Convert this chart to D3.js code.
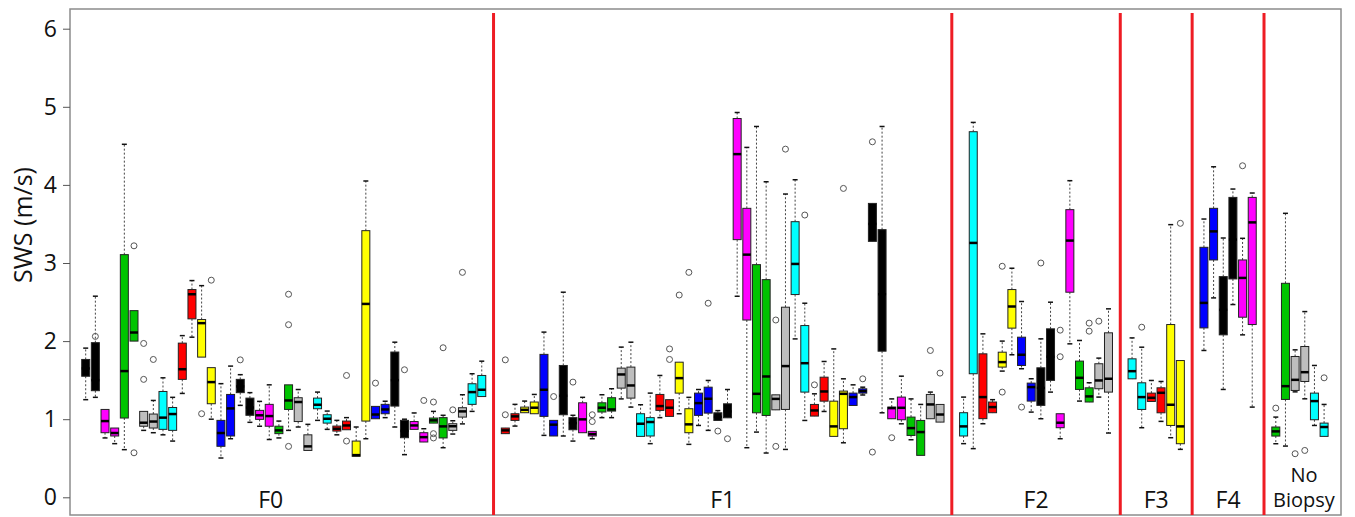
<!DOCTYPE html>
<html>
<head>
<meta charset="utf-8">
<script src="https://cdn.jsdelivr.net/npm/d3@7/dist/d3.min.js"></script>
<style>
  body { margin: 0; background: #fff; }
  svg text { font-family: "Open Sans", "DejaVu Sans", sans-serif; fill: #111; }
</style>
</head>
<body>
<div id="chart"></div>
<script>
//Grupos (etiquetas del eje X)
const GROUPS = ['F0', 'F1', 'F2', 'F3', 'F4', 'No Biopsy'];

//Cada caja: [bigote inf, Q1, mediana, Q3, bigote sup, [atípicos]]
const boxesF0 = [
  [1.25, 1.55, 1.65, 1.765, 1.91, []],
  [1.28, 1.365, 1.5, 1.98, 2.575, [2.06]],
  [0.76, 0.827, 0.976, 1.125, 1.13, []],
  [0.687, 0.785, 0.823, 0.887, 0.887, []],
  [0.61, 1.015, 1.616, 3.107, 4.52, []],
  [2.0, 2.0, 2.11, 2.39, 2.39, [3.22, 0.57]],
  [0.857, 0.91, 0.955, 1.1, 1.1, [1.97, 1.51]],
  [0.827, 0.887, 0.97, 1.066, 1.24, [1.765]],
  [0.80, 0.87, 1.02, 1.355, 1.53, []],
  [0.72, 0.857, 1.066, 1.15, 1.28, []],
  [1.33, 1.51, 1.64, 1.974, 2.07, []],
  [2.05, 2.285, 2.6, 2.66, 2.775, []],
  [1.795, 1.795, 2.23, 2.276, 2.71, [1.07]],
  [1.0, 1.198, 1.475, 1.66, 1.66, [2.78]],
  [0.503, 0.653, 0.823, 0.985, 1.455, []],
  [0.75, 0.785, 1.138, 1.317, 1.68, []],
  [1.177, 1.34, 1.42, 1.51, 1.57, [1.76]],
  [0.96, 1.05, 1.15, 1.27, 1.34, []],
  [0.91, 0.998, 1.05, 1.113, 1.228, []],
  [0.74, 0.91, 1.04, 1.19, 1.44, []],
  [0.76, 0.815, 0.857, 0.91, 0.976, []],
  [0.857, 1.125, 1.24, 1.44, 1.44, [2.6, 2.21, 0.652]],
  [0.9, 0.97, 1.22, 1.275, 1.38, []],
  [0.6, 0.6, 0.652, 0.8, 0.934, []],
  [0.985, 1.134, 1.185, 1.27, 1.347, []],
  [0.87, 0.95, 1.006, 1.057, 1.104, []],
  [0.8, 0.848, 0.878, 0.912, 0.985, []],
  [0.865, 0.865, 0.92, 0.976, 1.02, [1.56, 0.72]],
  [0.525, 0.525, 0.54, 0.72, 0.9, []],
  [0.75, 0.976, 2.476, 3.414, 4.05, []],
  [1.006, 1.006, 1.06, 1.164, 1.164, [1.462]],
  [1.02, 1.07, 1.125, 1.19, 1.23, []],
  [0.9, 1.168, 1.5, 1.86, 1.986, []],
  [0.546, 0.763, 0.85, 0.985, 1.0, [1.633]],
  [0.87, 0.87, 0.92, 0.97, 1.08, []],
  [0.708, 0.708, 0.77, 0.827, 0.878, [1.24]],
  [0.95, 0.95, 0.985, 1.015, 1.1, [1.22, 0.815, 0.76]],
  [0.635, 0.76, 0.908, 1.02, 1.05, [1.915]],
  [0.81, 0.857, 0.91, 0.942, 0.98, [1.12]],
  [0.94, 1.027, 1.1, 1.147, 1.313, [2.88]],
  [1.1, 1.19, 1.347, 1.454, 1.582, []],
  [1.29, 1.29, 1.377, 1.56, 1.743, []]
];

const boxesF1 = [
  [0.815, 0.815, 0.857, 0.887, 0.887, [1.76, 1.057]],
  [0.912, 0.985, 1.036, 1.07, 1.19, []],
  [1.083, 1.083, 1.12, 1.155, 1.232, []],
  [1.07, 1.07, 1.147, 1.22, 1.317, []],
  [0.793, 1.036, 1.377, 1.83, 2.115, []],
  [0.785, 0.785, 0.93, 0.985, 0.985, [1.29]],
  [0.785, 1.057, 1.3, 1.688, 2.626, []],
  [0.72, 0.865, 0.95, 1.02, 1.05, [1.475]],
  [0.827, 0.827, 0.998, 1.21, 1.28, []],
  [0.75, 0.785, 0.81, 0.844, 0.844, [1.057, 0.97]],
  [1.02, 1.092, 1.147, 1.21, 1.313, []],
  [1.02, 1.104, 1.125, 1.275, 1.39, []],
  [1.26, 1.398, 1.573, 1.654, 1.923, []],
  [1.155, 1.27, 1.432, 1.667, 1.986, []],
  [0.78, 0.78, 0.942, 1.07, 1.185, []],
  [0.687, 0.785, 0.964, 1.02, 1.334, []],
  [1.02, 1.113, 1.168, 1.317, 1.56, []],
  [1.036, 1.036, 1.147, 1.25, 1.25, [1.9, 1.765]],
  [1.07, 1.334, 1.526, 1.73, 1.73, [2.59]],
  [0.678, 0.827, 0.934, 1.134, 1.28, [2.88]],
  [0.92, 1.049, 1.206, 1.334, 1.38, []],
  [0.857, 1.078, 1.262, 1.41, 1.496, [2.485]],
  [0.984, 0.984, 1.03, 1.082, 1.11, [0.848]],
  [1.018, 1.018, 1.1, 1.197, 1.38, [0.75]],
  [2.574, 3.299, 4.394, 4.85, 4.927, []],
  [0.635, 2.27, 3.107, 3.7, 4.48, []],
  [0.835, 1.082, 1.325, 2.979, 4.748, []],
  [0.567, 1.048, 1.547, 2.787, 4.04, []],
  [1.12, 1.12, 1.26, 1.312, 1.312, [2.27, 0.652]],
  [0.613, 1.125, 1.68, 2.434, 3.883, [4.458]],
  [2.028, 2.596, 2.988, 3.529, 4.066, []],
  [0.984, 1.347, 1.717, 2.199, 2.485, [3.614]],
  [1.04, 1.04, 1.112, 1.189, 1.325, [1.44]],
  [1.099, 1.231, 1.355, 1.538, 1.739, []],
  [0.78, 0.78, 0.908, 1.231, 1.9, []],
  [0.698, 0.878, 1.325, 1.36, 1.517, [3.955]],
  [1.176, 1.176, 1.283, 1.334, 1.44, []],
  [1.31, 1.334, 1.36, 1.389, 1.41, [1.517]],
  [3.277, 3.277, 3.5, 3.763, 3.763, [4.552, 0.579]],
  [1.082, 1.871, 2.6, 3.427, 4.748, []],
  [1.006, 1.006, 1.142, 1.155, 1.26, [0.763]],
  [0.941, 0.993, 1.146, 1.283, 1.551, []],
  [0.737, 0.792, 0.886, 1.027, 1.26, []],
  [0.537, 0.537, 0.835, 0.984, 1.189, []],
  [1.006, 1.006, 1.189, 1.317, 1.347, [1.88]],
  [0.963, 0.963, 1.06, 1.189, 1.189, [1.59]]
];

const boxesF2 = [
  [0.687, 0.785, 0.908, 1.083, 1.283, []],
  [0.623, 1.582, 3.257, 4.681, 4.8, []],
  [0.942, 1.007, 1.283, 1.837, 2.093, []],
  [1.083, 1.083, 1.155, 1.22, 1.25, []],
  [1.616, 1.667, 1.731, 1.858, 2.0, [2.958, 1.347]],
  [1.825, 2.166, 2.443, 2.66, 2.933, []],
  [1.646, 1.688, 1.825, 2.05, 2.507, [1.155]],
  [1.091, 1.232, 1.411, 1.462, 1.518, []],
  [1.006, 1.177, 1.4, 1.658, 2.029, [3.0]],
  [1.347, 1.497, 1.8, 2.157, 2.498, []],
  [0.75, 0.891, 0.955, 1.07, 1.07, [2.14, 1.80]],
  [1.965, 2.626, 3.287, 3.683, 4.054, []],
  [1.232, 1.381, 1.53, 1.744, 2.008, []],
  [1.22, 1.22, 1.292, 1.402, 1.467, [2.23, 2.127]],
  [1.283, 1.39, 1.496, 1.71, 1.782, [2.255]],
  [0.823, 1.347, 1.518, 2.106, 2.413, []]
];

const boxesF3 = [
  [1.517, 1.517, 1.615, 1.773, 2.041, []],
  [0.891, 1.125, 1.283, 1.466, 1.922, [2.178]],
  [1.227, 1.227, 1.274, 1.334, 1.496, []],
  [0.972, 1.082, 1.338, 1.402, 1.483, []],
  [0.763, 0.92, 1.185, 2.212, 3.491, []],
  [0.614, 0.686, 0.908, 1.751, 1.751, [3.508]]
];

const boxesF4 = [
  [1.88, 2.169, 2.489, 3.201, 3.563, []],
  [2.553, 3.039, 3.405, 3.7, 4.232, []],
  [1.381, 2.08, 2.4, 2.826, 3.32, []],
  [2.468, 2.796, 3.3, 3.84, 3.947, []],
  [2.08, 2.306, 2.809, 3.039, 3.316, [4.245]],
  [1.155, 2.212, 3.52, 3.84, 3.896, []]
];

const boxesNB = [
  [0.686, 0.784, 0.844, 0.9, 1.027, [1.142]],
  [0.656, 1.253, 1.423, 2.74, 3.636, []],
  [1.35, 1.368, 1.504, 1.803, 1.888, [0.558]],
  [1.261, 1.483, 1.602, 1.931, 2.378, [0.6]],
  [0.92, 0.993, 1.232, 1.334, 1.688, []],
  [0.78, 0.78, 0.9, 0.95, 1.189, [1.53]]
];

const Y_TICKS = [0, 1, 2, 3, 4, 5, 6];

//Colores (se repiten por parejas de cajas)
const PALETTE = ['#000000', '#ff00ff', '#00c400', '#bebebe', '#00ffff', '#ff0000', '#ffff00', '#0000ff'];

const W = 1355, H = 517;
const frame = {left: 70, top: 9, right: 1341, bottom: 515};
const GAP = 2.44; //separación entre grupos, en huecos de caja
const BOX_W = 8;

let svg = d3.select('#chart').append('svg')
  .attr('width', W)
  .attr('height', H);

//Posiciones de las cajas
let allGroups = [boxesF0, boxesF1, boxesF2, boxesF3, boxesF4, boxesNB];
let rows = [], seps = [], centers = [];
let pos = 0;
allGroups.forEach(function(g, gi) {
  if (gi > 0) { seps.push(pos - 1 + GAP / 2); pos += GAP - 1; }
  let start = pos;
  g.forEach(function(b) { rows.push({pos: pos, b: b, i: rows.length}); pos += 1; });
  centers.push((start + pos - 1) / 2);
});

let x = d3.scaleLinear()
  .domain([0, pos - 1])
  .range([85.7, 1324.1]);

let y = d3.scaleLinear()
  .domain([0, 6])
  .range([497.3, 28.7]);

//Marco
svg.append('rect')
  .attr('x', frame.left).attr('y', frame.top)
  .attr('width', frame.right - frame.left)
  .attr('height', frame.bottom - frame.top)
  .attr('fill', '#fff')
  .attr('stroke', '#8c8c8c')
  .attr('stroke-width', 1.5);

//Eje Y
let yAxis = svg.append('g')
  .attr('transform', 'translate(' + frame.left + ',0)')
  .call(d3.axisLeft(y).tickValues(Y_TICKS).tickSize(7).tickPadding(6).tickFormat(d3.format('d')));
yAxis.select('.domain').remove();
yAxis.selectAll('line').attr('stroke', '#555');
yAxis.selectAll('text')
  .style('font-family', '"Open Sans", sans-serif')
  .style('font-size', '23px')
  .attr('fill', '#111');

svg.append('text')
  .attr('transform', 'translate(32,225) rotate(-90)')
  .attr('text-anchor', 'middle')
  .style('font-size', '25px')
  .text('SWS (m/s)');

//Líneas rojas de separación
svg.selectAll('.sep')
  .data(seps)
  .enter()
  .append('line')
  .attr('class', 'sep')
  .attr('x1', function(d) { return x(d); })
  .attr('x2', function(d) { return x(d); })
  .attr('y1', 13)
  .attr('y2', frame.bottom)
  .attr('stroke', '#ee1c24')
  .attr('stroke-width', 3);

//Cajas
let g = svg.append('g').selectAll('g')
  .data(rows)
  .enter()
  .append('g');

//Bigotes
g.append('line')
  .attr('x1', function(d) { return x(d.pos); })
  .attr('x2', function(d) { return x(d.pos); })
  .attr('y1', function(d) { return y(d.b[3]); })
  .attr('y2', function(d) { return y(d.b[4]); })
  .attr('stroke', '#444')
  .attr('stroke-dasharray', '2,2');

g.append('line')
  .attr('x1', function(d) { return x(d.pos); })
  .attr('x2', function(d) { return x(d.pos); })
  .attr('y1', function(d) { return y(d.b[1]); })
  .attr('y2', function(d) { return y(d.b[0]); })
  .attr('stroke', '#444')
  .attr('stroke-dasharray', '2,2');

//Topes
[0, 4].forEach(function(k) {
  g.filter(function(d) { return Math.abs(d.b[k] - d.b[k === 0 ? 1 : 3]) > 0.005; })
    .append('line')
    .attr('x1', function(d) { return x(d.pos) - 2.5; })
    .attr('x2', function(d) { return x(d.pos) + 2.5; })
    .attr('y1', function(d) { return y(d.b[k]); })
    .attr('y2', function(d) { return y(d.b[k]); })
    .attr('stroke', '#111')
    .attr('stroke-width', 1.5);
});

g.append('rect')
  .attr('x', function(d) { return x(d.pos) - BOX_W / 2; })
  .attr('y', function(d) { return y(d.b[3]); })
  .attr('width', BOX_W)
  .attr('height', function(d) { return Math.max(1, y(d.b[1]) - y(d.b[3])); })
  .attr('fill', function(d) { return PALETTE[Math.floor(d.i / 2) % PALETTE.length]; })
  .attr('stroke', '#222')
  .attr('stroke-width', 1);

g.append('line')
  .attr('x1', function(d) { return x(d.pos) - BOX_W / 2; })
  .attr('x2', function(d) { return x(d.pos) + BOX_W / 2; })
  .attr('y1', function(d) { return y(d.b[2]); })
  .attr('y2', function(d) { return y(d.b[2]); })
  .attr('stroke', '#000')
  .attr('stroke-width', 2.5);

//Atípicos
g.selectAll('circle')
  .data(function(d) { return d.b[5].map(function(v) { return {pos: d.pos, v: v}; }); })
  .enter()
  .append('circle')
  .attr('cx', function(d) { return x(d.pos); })
  .attr('cy', function(d) { return y(d.v); })
  .attr('r', 3)
  .attr('fill', 'none')
  .attr('stroke', '#555')
  .attr('stroke-width', 1);

//Etiquetas de los grupos
GROUPS.forEach(function(name, gi) {
  if (name === 'No Biopsy') {
    svg.append('text')
      .attr('x', x(centers[gi]) + 4).attr('y', 482)
      .attr('text-anchor', 'middle')
      .style('font-size', '20px')
      .text('No');
    svg.append('text')
      .attr('x', x(centers[gi]) + 4).attr('y', 507)
      .attr('text-anchor', 'middle')
      .style('font-size', '20px')
      .text('Biopsy');
  } else {
    svg.append('text')
      .attr('x', x(centers[gi]) - (gi === 0 ? 13 : 0)).attr('y', 508)
      .attr('text-anchor', 'middle')
      .style('font-size', '23px')
      .text(name);
  }
});
</script>
</body>
</html>
